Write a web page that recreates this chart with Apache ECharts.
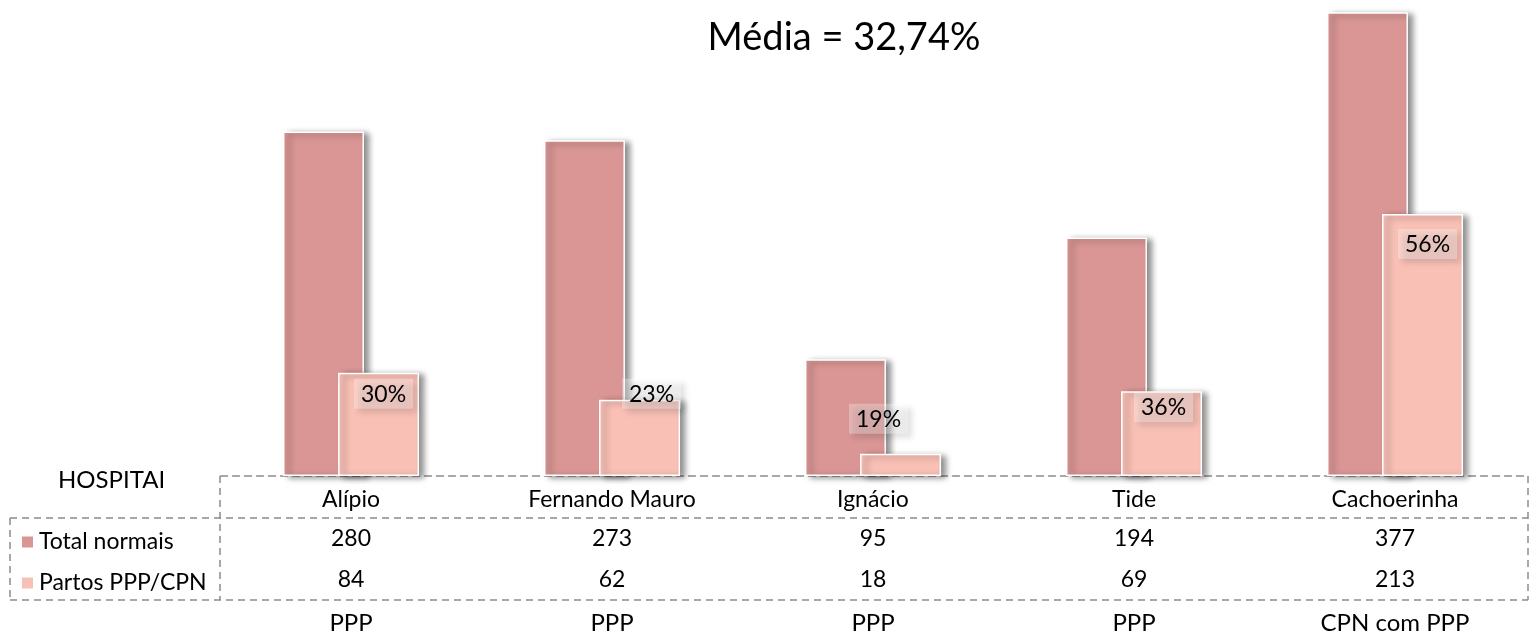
<!DOCTYPE html>
<html>
<head>
<meta charset="utf-8">
<script src="https://cdn.jsdelivr.net/npm/echarts@6/dist/echarts.min.js"></script>
<style>
  html, body { margin: 0; padding: 0; background: #fff; }
  #chart { width: 1531px; height: 639px; }
</style>
</head>
<body>
<div id="chart"></div>
<script>
const hospitals = ["Alípio", "Fernando Mauro", "Ignácio", "Tide", "Cachoerinha"];
const totalNormais = [280, 273, 95, 194, 377];
const partosPPP = [84, 62, 18, 69, 213];
const pctLabels = ["30%", "23%", "19%", "36%", "56%"];
const tipos = ["PPP", "PPP", "PPP", "PPP", "CPN com PPP"];
const mediaText = "Média = 32,74%";

// where Excel left each data label, relative to the top of its bar
const labelOffsets = [[5, 6], [12, -21], [-22, -50], [2, 1], [5, 15]];

const FONT = "Lato, 'Open Sans', sans-serif";
const dash = { stroke: "#8c8c8c", lineWidth: 1.5, lineDash: [7, 5] };

const chart = echarts.init(document.getElementById("chart"));

const line = (x1, y1, x2, y2) => ({
  type: "line",
  silent: true,
  shape: { x1, y1, x2, y2 },
  style: dash,
});

const option = {
  animation: false,
  textStyle: { fontFamily: FONT },
  title: {
    text: mediaText,
    left: 839,
    top: 14,
    textAlign: "center",
    textStyle: { fontFamily: FONT, fontSize: 38, fontWeight: "normal", color: "#000" },
  },
  legend: {
    orient: "vertical",
    left: 15,
    top: 525,
    itemWidth: 13,
    itemHeight: 13,
    itemGap: 17,
    icon: "rect",
    textStyle: { fontFamily: FONT, fontSize: 23, lineHeight: 24, color: "#000" },
    data: ["Total normais", "Partos PPP/CPN"],
  },
  grid: { left: 220.5, right: 5.5, top: 0, bottom: 163 },
  xAxis: {
    type: "category",
    data: hospitals,
    axisLine: { lineStyle: { color: "#8c8c8c", width: 1.5, type: [7, 5] } },
    axisTick: { show: false },
    axisLabel: {
      margin: 8,
      interval: 0,
      color: "#000",
      formatter: (name, i) =>
        `{n|${name}}\n{a|${totalNormais[i]}}\n{b|${partosPPP[i]}}\n{t|${tipos[i]}}`,
      rich: {
        n: { fontFamily: FONT, fontSize: 23, lineHeight: 32 },
        a: { fontFamily: FONT, fontSize: 23, lineHeight: 46 },
        b: { fontFamily: FONT, fontSize: 23, lineHeight: 36 },
        t: { fontFamily: FONT, fontSize: 24, lineHeight: 50 },
      },
    },
  },
  yAxis: { type: "value", min: 0, max: 387, show: false, splitLine: { show: false } },
  series: [
    {
      name: "Total normais",
      type: "bar",
      barWidth: 81,
      barGap: "-32%",
      data: totalNormais,
      itemStyle: {
        color: "#D99694",
        borderColor: "#fff",
        borderWidth: 1.5,
        shadowColor: "rgba(0,0,0,0.45)",
        shadowBlur: 6,
        shadowOffsetX: 5,
        shadowOffsetY: 2,
      },
    },
    {
      name: "Partos PPP/CPN",
      type: "bar",
      barWidth: 81,
      data: partosPPP.map((v, i) => ({
        value: v,
        label: { offset: labelOffsets[i] },
      })),
      itemStyle: {
        color: "#F9C0B6",
        borderColor: "#fff",
        borderWidth: 1.5,
        shadowColor: "rgba(0,0,0,0.45)",
        shadowBlur: 6,
        shadowOffsetX: 5,
        shadowOffsetY: 2,
      },
      label: {
        show: true,
        position: "insideTop",
        distance: 0,
        formatter: (p) => pctLabels[p.dataIndex],
        fontFamily: FONT,
        fontSize: 23,
        color: "#000",
        padding: [4, 7, 3, 7],
        backgroundColor: "rgba(255,255,255,0.3)",
        shadowColor: "rgba(0,0,0,0.4)",
        shadowBlur: 6,
        shadowOffsetX: 4,
        shadowOffsetY: 4,
      },
    },
  ],
  graphic: [
    line(220, 476, 220, 600),
    line(10, 518, 1528, 518),
    line(10, 600, 1528, 600),
    line(10, 518, 10, 600),
    line(1528, 476, 1528, 600),
    {
      type: "text",
      left: 58,
      top: 468,
      silent: true,
      style: { text: "HOSPITAI", font: `24px ${FONT}`, fill: "#000" },
    },
  ],
};

chart.setOption(option);
</script>
</body>
</html>
